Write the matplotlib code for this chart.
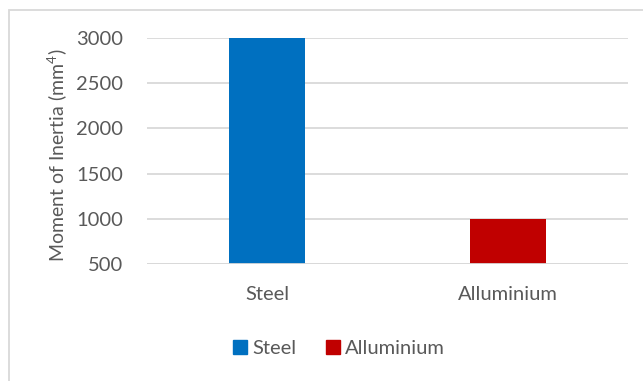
import matplotlib.pyplot as plt
from matplotlib.lines import Line2D
from matplotlib.patches import Rectangle

materials = ['Steel', 'Alluminium']
inertia = [3000, 1000]
colors = ['#0070C0', '#C00000']
y_ticks = [500, 1000, 1500, 2000, 2500, 3000]

plt.rcParams['font.family'] = ['Lato', 'DejaVu Sans']
plt.rcParams['mathtext.fontset'] = 'custom'
plt.rcParams['mathtext.rm'] = 'Lato'
text_grey = '#595959'
grid_grey = '#D9D9D9'

fig = plt.figure(figsize=(6.43, 3.81), dpi=100)
ax = fig.add_axes([147 / 643, 1 - 264 / 381, 481 / 643, 226 / 381])

# bars start at the axis floor (500)
base = y_ticks[0]
ax.bar(range(len(materials)), [v - base for v in inertia], bottom=base,
       width=0.316, color=colors, zorder=3)

ax.set_xlim(-0.5, 1.5)
ax.set_ylim(500, 3000)
ax.set_yticks(y_ticks)
ax.set_xticks(range(len(materials)))
ax.set_xticklabels(materials)
ax.grid(axis='y', color=grid_grey, linewidth=1.3, zorder=0)
for s in ax.spines.values():
    s.set_visible(False)
ax.tick_params(axis='both', length=0, labelsize=14.5, colors=text_grey)
ax.tick_params(axis='y', pad=17)
ax.tick_params(axis='x', pad=16)
ax.axhline(500, color=grid_grey, linewidth=1.3, zorder=4)

fig.text(57 / 643, 1 - 155 / 381, 'Moment of Inertia (mm$\\mathrm{^4}$)', rotation=90,
         ha='center', va='center', fontsize=14, color=text_grey)

handles = [Line2D([], [], marker='s', linestyle='none', markersize=9.5,
                  markerfacecolor=c, markeredgecolor=c) for c in colors]
fig.legend(handles, materials, loc='center', bbox_to_anchor=(338 / 643, 1 - 348 / 381),
           ncol=2, frameon=False, fontsize=14.5, handletextpad=0.15,
           columnspacing=1.4, handlelength=0.9, labelcolor=text_grey)

# chart frame
fig.patches.append(Rectangle((9 / 643, -0.05), 1.0, 1 - 10 / 381 + 0.05,
                             transform=fig.transFigure, fill=False,
                             edgecolor=grid_grey, linewidth=1.3))

fig.savefig('out.png', dpi=100)
